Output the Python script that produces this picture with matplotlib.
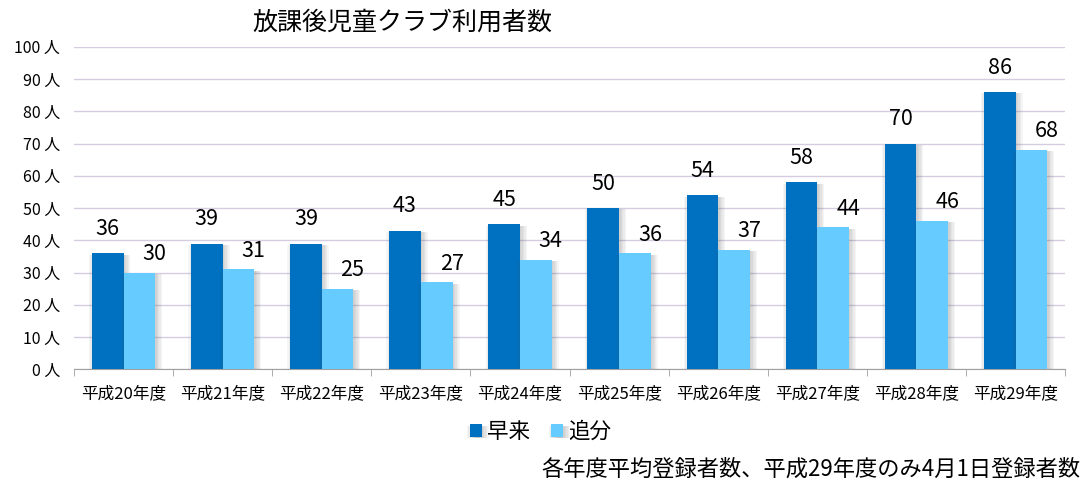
import matplotlib
matplotlib.use('Agg')
import matplotlib.pyplot as plt
import matplotlib.patheffects as pe
import numpy as np

plt.rcParams['font.family'] = ['Noto Sans CJK JP', 'DejaVu Sans']

years = ['平成20年度', '平成21年度', '平成22年度', '平成23年度', '平成24年度',
         '平成25年度', '平成26年度', '平成27年度', '平成28年度', '平成29年度']
hayaku = [36, 39, 39, 43, 45, 50, 54, 58, 70, 86]
tsuika = [30, 31, 25, 27, 34, 36, 37, 44, 46, 68]
yticks = list(range(0, 101, 10))

fig = plt.figure(figsize=(10.88, 4.84), dpi=100)
ax = fig.add_axes([0.068, 0.2366, 0.911, 0.667])

x = np.arange(len(years))
w = 0.32

# soft shadow around the bars
shadow = [pe.SimplePatchShadow(offset=(d, -1), shadow_rgbFace='#555555', alpha=0.06)
          for d in (-2, -1, 1, 2, 3, 4, 5)] + [pe.Normal()]
b1 = ax.bar(x - w / 2, hayaku, w, color='#0070C0', label='早来', zorder=3)
b2 = ax.bar(x + w / 2, tsuika, w, color='#66CCFF', label='追分', zorder=3)
for b in list(b1) + list(b2):
    b.set_path_effects(shadow)

for xi, v in zip(x, hayaku):
    ax.text(xi - w / 2, v + 7.5, str(v), ha='center', va='center', fontsize=15.5, zorder=4)
for xi, v in zip(x, tsuika):
    ax.text(xi + w / 2 + 0.15, v + 5.8, str(v), ha='center', va='center', fontsize=15.5, zorder=4)

ax.set_xlim(-0.5, len(years) - 0.5)
ax.set_ylim(0, 100)
ax.set_yticks(yticks)
ax.set_yticklabels([f'{t} 人' for t in yticks], fontsize=11.5)
ax.yaxis.grid(True, color='#D5CCE2', linewidth=1, zorder=0)
ax.tick_params(axis='y', length=0, pad=10)

ax.set_xticks(x)
ax.set_xticklabels(years, fontsize=12)
ax.set_xticks(np.arange(-0.5, len(years), 1), minor=True)
ax.tick_params(axis='x', which='major', length=0, pad=11)
ax.tick_params(axis='x', which='minor', length=5, color='#A0A0A0')

for s in ['top', 'right', 'left']:
    ax.spines[s].set_visible(False)
ax.spines['bottom'].set_color('#A0A0A0')

fig.text(0.3695, 0.953, '放課後児童クラブ利用者数', ha='center', va='center', fontsize=18)
fig.legend(handles=[b1, b2], loc='center', bbox_to_anchor=(0.497, 0.107), ncol=2,
           frameon=False, fontsize=15.5, handlelength=0.55, handleheight=0.55,
           handletextpad=0.25, columnspacing=1.0)
fig.text(0.993, 0.03, '各年度平均登録者数、平成29年度のみ4月1日登録者数', ha='right',
         va='center', fontsize=16)

fig.savefig('out.png', dpi=100)
